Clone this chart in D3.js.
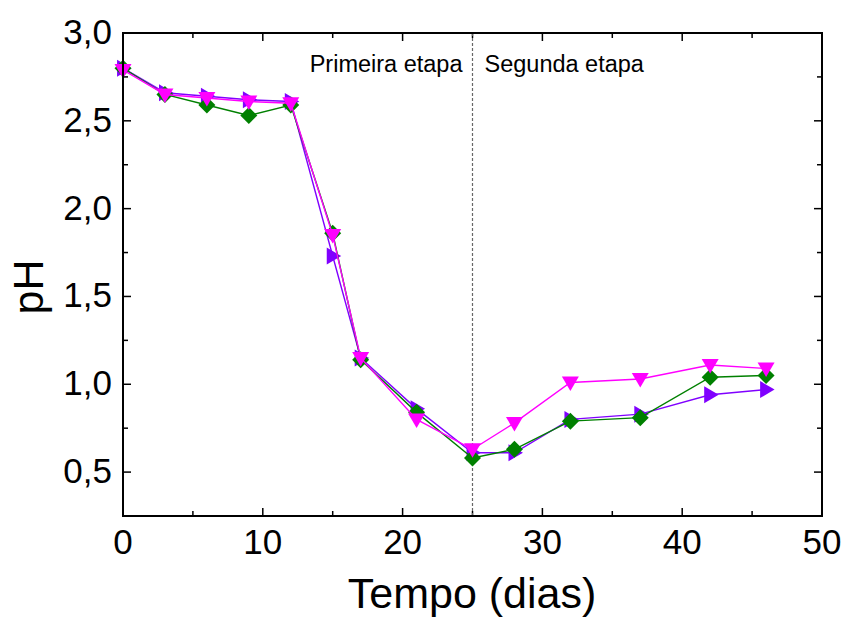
<!DOCTYPE html>
<html>
<head>
<meta charset="utf-8">
<script src="https://cdn.jsdelivr.net/npm/d3@7"></script>
<style>
body { margin: 0; background: #fff; }
text { font-family: "Liberation Sans", Arial, sans-serif; }
</style>
</head>
<body>
<div id="chart"></div>
<script>
var dias = [0, 3, 6, 9, 12, 15, 17, 21, 25, 28, 32, 37, 42, 46];
var phVerde = [2.80, 2.65, 2.59, 2.53, 2.59, 1.86, 1.14, 0.84, 0.58, 0.63, 0.79, 0.81, 1.04, 1.05];
var phRoxo = [2.80, 2.66, 2.64, 2.62, 2.61, 1.73, 1.15, 0.86, 0.61, 0.61, 0.80, 0.83, 0.94, 0.97];
var phRosa = [2.79, 2.65, 2.63, 2.61, 2.60, 1.85, 1.15, 0.80, 0.63, 0.78, 1.01, 1.03, 1.11, 1.09];
var xTicks = [0, 10, 20, 30, 40, 50];
var xMinor = [5, 15, 25, 35, 45];
var yTicks = [0.5, 1.0, 1.5, 2.0, 2.5, 3.0];
var yMinor = [0.75, 1.25, 1.75, 2.25, 2.75];
var divisao = 25;

var width = 846, height = 618;
var margin = {left: 123, right: 24, top: 33, bottom: 102};

var svg = d3.select('#chart').append('svg')
	.attr('width', width)
	.attr('height', height);

var x = d3.scaleLinear().domain([0, 50]).range([margin.left, width - margin.right]);
var y = d3.scaleLinear().domain([0.25, 3.0]).range([height - margin.bottom, margin.top]);

var fmt = function (d) { return d3.format('.1f')(d).replace('.', ','); };

var g = svg.append('g');

// ticks, pointing inward on all four sides
var drawTicks = function () {
	var big = 8, small = 5;
	var y0 = y.range()[0], y1 = y.range()[1], x0 = x.range()[0], x1 = x.range()[1];
	var tickX = function (t, len) {
		g.append('line').attr('x1', x(t)).attr('x2', x(t)).attr('y1', y0).attr('y2', y0 - len);
		g.append('line').attr('x1', x(t)).attr('x2', x(t)).attr('y1', y1).attr('y2', y1 + len);
	};
	var tickY = function (t, len) {
		g.append('line').attr('x1', x0).attr('x2', x0 + len).attr('y1', y(t)).attr('y2', y(t));
		g.append('line').attr('x1', x1).attr('x2', x1 - len).attr('y1', y(t)).attr('y2', y(t));
	};
	xTicks.forEach(function (t) { tickX(t, big); });
	xMinor.forEach(function (t) { tickX(t, small); });
	yTicks.forEach(function (t) { tickY(t, big); });
	yMinor.forEach(function (t) { tickY(t, small); });
	g.selectAll('line').attr('stroke', '#000').attr('stroke-width', 1.5);
};
drawTicks();

// divider between the two stages
svg.append('line')
	.attr('x1', x(divisao)).attr('x2', x(divisao))
	.attr('y1', y.range()[1]).attr('y2', y.range()[0])
	.attr('stroke', '#666').attr('stroke-width', 1.2)
	.attr('stroke-dasharray', '3,2');

svg.append('text')
	.attr('x', x(divisao) - 10).attr('y', 72)
	.attr('text-anchor', 'end')
	.attr('font-size', 23.5)
	.text('Primeira etapa');
svg.append('text')
	.attr('x', x(divisao) + 12).attr('y', 72)
	.attr('font-size', 23.5)
	.text('Segunda etapa');

// tick labels
svg.selectAll('text.xl').data(xTicks).enter().append('text')
	.classed('xl', true)
	.attr('x', function (d) { return x(d); })
	.attr('y', height - margin.bottom + 38)
	.attr('text-anchor', 'middle')
	.attr('font-size', 35)
	.text(function (d) { return d; });
svg.selectAll('text.yl').data(yTicks).enter().append('text')
	.classed('yl', true)
	.attr('x', margin.left - 11)
	.attr('y', function (d) { return y(d) + 11; })
	.attr('text-anchor', 'end')
	.attr('font-size', 35)
	.text(fmt);

svg.append('text')
	.attr('x', 472).attr('y', 608)
	.attr('text-anchor', 'middle')
	.attr('font-size', 43)
	.text('Tempo (dias)');
svg.append('text')
	.attr('transform', 'translate(43,287) rotate(-90)')
	.attr('text-anchor', 'middle')
	.attr('font-size', 43)
	.text('pH');

// series
var series = [
	{vals: phRoxo, color: '#8000ff', shape: 'right'},
	{vals: phVerde, color: '#008000', shape: 'diamond'},
	{vals: phRosa, color: '#ff00ff', shape: 'down'}
];

var markerPath = function (shape) {
	var r = 8.5;
	if (shape === 'diamond') return 'M0,' + (-r) + 'L' + r + ',0L0,' + r + 'L' + (-r) + ',0Z';
	if (shape === 'down') return 'M' + (-r) + ',' + (-r * 0.7) + 'L' + r + ',' + (-r * 0.7) + 'L0,' + r + 'Z';
	return 'M' + (-r * 0.7) + ',' + (-r) + 'L' + r + ',0L' + (-r * 0.7) + ',' + r + 'Z';
};

var line = d3.line()
	.x(function (d) { return x(d[0]); })
	.y(function (d) { return y(d[1]); });

series.forEach(function (s) {
	var pts = dias.map(function (d, i) { return [d, s.vals[i]]; });
	var sg = svg.append('g');
	sg.append('path')
		.attr('d', line(pts))
		.attr('fill', 'none')
		.attr('stroke', s.color)
		.attr('stroke-width', 1.4);
	sg.selectAll('path.m').data(pts).enter().append('path')
		.classed('m', true)
		.attr('transform', function (d) { return 'translate(' + x(d[0]) + ',' + y(d[1]) + ')'; })
		.attr('d', markerPath(s.shape))
		.attr('fill', s.color);
});

// frame
svg.append('rect')
	.attr('x', x.range()[0]).attr('y', y.range()[1])
	.attr('width', x.range()[1] - x.range()[0])
	.attr('height', y.range()[0] - y.range()[1])
	.attr('fill', 'none')
	.attr('stroke', '#000')
	.attr('stroke-width', 2);
</script>
</body>
</html>
